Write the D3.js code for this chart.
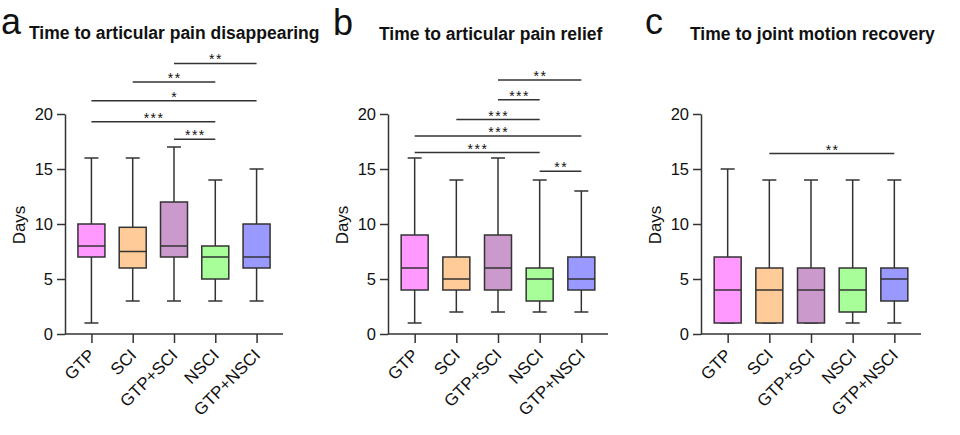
<!DOCTYPE html>
<html>
<head>
<meta charset="utf-8">
<script src="https://cdn.jsdelivr.net/npm/d3@7"></script>
<style>
  html, body { margin: 0; padding: 0; background: #fff; }
  svg { display: block; }
  text { font-family: "Liberation Sans", Arial, Helvetica, sans-serif; fill: #111; }
</style>
</head>
<body>
<svg id="chart" width="960" height="435"></svg>
<script>
// ---------- DATA ----------
const categories = ["GTP", "SCI", "GTP+SCI", "NSCI", "GTP+NSCI"];
const boxColors = ["#FF99FF", "#FFCC99", "#CC99CC", "#A8FF99", "#9999FF"];
const yTickValues = [0, 5, 10, 15, 20];
const panelLetters = ["a", "b", "c"];
const panelTitles = ["Time to articular pain disappearing", "Time to articular pain relief", "Time to joint motion recovery"];
const yLabel = "Days";

// Panel a: time to articular pain disappearing
const aMin = [1, 3, 3, 3, 3];
const aQ1 = [7, 6, 7, 5, 6];
const aMedian = [8, 7.5, 8, 7, 7];
const aQ3 = [10, 9.7, 12, 8, 10];
const aMax = [16, 16, 17, 14, 15];
// [from index, to index, bar level (days), label]
const aSig = [[2, 4, 24.6, "**"], [1, 3, 22.9, "**"], [0, 4, 21.2, "*"], [0, 3, 19.3, "***"], [2, 3, 17.7, "***"]];

// Panel b: time to articular pain relief
const bMin = [1, 2, 2, 2, 2];
const bQ1 = [4, 4, 4, 3, 4];
const bMedian = [6, 5, 6, 5, 5];
const bQ3 = [9, 7, 9, 6, 7];
const bMax = [16, 14, 16, 14, 13];
const bSig = [[2, 4, 23.1, "**"], [2, 3, 21.3, "***"], [1, 3, 19.5, "***"], [0, 4, 18.0, "***"], [0, 3, 16.5, "***"], [3, 4, 14.8, "**"]];

// Panel c: time to joint motion recovery
const cMin = [1, 1, 1, 1, 1];
const cQ1 = [1, 1, 1, 2, 3];
const cMedian = [4, 4, 4, 4, 5];
const cQ3 = [7, 6, 6, 6, 6];
const cMax = [15, 14, 14, 14, 14];
const cSig = [[1, 4, 16.4, "**"]];

// ---------- LAYOUT ----------
const panels = [
  { min: aMin, q1: aQ1, med: aMedian, q3: aQ3, max: aMax, sig: aSig, x0: 65, x1: 283, letterX: 1, titleX: 29, titleY: 39, letterY: 34 },
  { min: bMin, q1: bQ1, med: bMedian, q3: bQ3, max: bMax, sig: bSig, x0: 388, x1: 608, letterX: 333, titleX: 379, titleY: 40, letterY: 35 },
  { min: cMin, q1: cQ1, med: cMedian, q3: cQ3, max: cMax, sig: cSig, x0: 701, x1: 921, letterX: 645, titleX: 690, titleY: 40, letterY: 34 }
];
const yBottom = 334, yTop = 114;
const boxW = 27, capW = 14;
const ink = "#333";

const svg = d3.select("#chart");

panels.forEach((p, pi) => {
  const g = svg.append("g");
  const x = d3.scalePoint().domain(categories).range([p.x0, p.x1]).padding(0.64);
  const y = d3.scaleLinear().domain([0, 20]).range([yBottom, yTop]);

  // panel letter & title
  g.append("text").attr("x", p.letterX).attr("y", p.letterY)
    .style("font-size", "36px").text(panelLetters[pi]);
  g.append("text").attr("x", p.titleX).attr("y", p.titleY)
    .style("font-size", "17.5px").style("font-weight", "bold").text(panelTitles[pi]);

  // y axis
  const yAxis = d3.axisLeft(y).tickValues(yTickValues).tickSize(8).tickPadding(4).tickSizeOuter(0);
  const ya = g.append("g").attr("transform", `translate(${p.x0},0)`).call(yAxis);
  ya.select(".domain").attr("stroke", ink).attr("stroke-width", 1.5);
  ya.selectAll(".tick line").attr("stroke", ink).attr("stroke-width", 1.5);
  ya.selectAll(".tick text").style("font-size", "16.5px").attr("fill", "#111")
    .style("font-family", "'Liberation Sans', Arial, sans-serif");

  // x axis
  const xAxis = d3.axisBottom(x).tickSize(9).tickPadding(3).tickSizeOuter(0);
  const xa = g.append("g").attr("transform", `translate(0,${yBottom})`).call(xAxis);
  xa.select(".domain").attr("stroke", ink).attr("stroke-width", 1.5)
    .attr("d", `M${p.x0},0H${p.x1}`);
  xa.selectAll(".tick line").attr("stroke", ink).attr("stroke-width", 1.5);
  xa.selectAll(".tick text")
    .style("font-size", "17px").attr("fill", "#111")
    .style("font-family", "'Liberation Sans', Arial, sans-serif")
    .attr("text-anchor", "end")
    .attr("dy", "0.35em")
    .attr("transform", "translate(0,18) rotate(-45)")
    .attr("y", 0).attr("x", 0);

  // y label
  g.append("text")
    .attr("transform", `translate(${p.x0 - 40},${(yTop + yBottom) / 2 + 1}) rotate(-90)`)
    .attr("text-anchor", "middle").style("font-size", "17px").text(yLabel);

  // boxes
  categories.forEach((c, i) => {
    const cx = x(c);
    const bg = g.append("g");
    // whiskers
    bg.append("line").attr("x1", cx).attr("x2", cx).attr("y1", y(p.max[i])).attr("y2", y(p.q3[i]))
      .attr("stroke", ink).attr("stroke-width", 1.5);
    bg.append("line").attr("x1", cx).attr("x2", cx).attr("y1", y(p.q1[i])).attr("y2", y(p.min[i]))
      .attr("stroke", ink).attr("stroke-width", 1.5);
    bg.append("line").attr("x1", cx - capW / 2).attr("x2", cx + capW / 2).attr("y1", y(p.max[i])).attr("y2", y(p.max[i]))
      .attr("stroke", ink).attr("stroke-width", 1.5);
    bg.append("line").attr("x1", cx - capW / 2).attr("x2", cx + capW / 2).attr("y1", y(p.min[i])).attr("y2", y(p.min[i]))
      .attr("stroke", ink).attr("stroke-width", 1.5);
    // box
    bg.append("rect").attr("x", cx - boxW / 2).attr("width", boxW)
      .attr("y", y(p.q3[i])).attr("height", y(p.q1[i]) - y(p.q3[i]))
      .attr("fill", boxColors[i]).attr("stroke", ink).attr("stroke-width", 1.5);
    // median
    bg.append("line").attr("x1", cx - boxW / 2).attr("x2", cx + boxW / 2).attr("y1", y(p.med[i])).attr("y2", y(p.med[i]))
      .attr("stroke", ink).attr("stroke-width", 1.5);
  });

  // significance bars
  p.sig.forEach(s => {
    const xa1 = x(categories[s[0]]), xa2 = x(categories[s[1]]);
    const yy = y(s[2]);
    g.append("line").attr("x1", xa1).attr("x2", xa2).attr("y1", yy).attr("y2", yy)
      .attr("stroke", ink).attr("stroke-width", 1.5);
    g.append("text").attr("x", (xa1 + xa2) / 2 + 0.75).attr("y", yy + 1)
      .attr("text-anchor", "middle").style("font-size", "14px")
      .style("letter-spacing", "1.5px").text(s[3]);
  });
});
</script>
</body>
</html>
